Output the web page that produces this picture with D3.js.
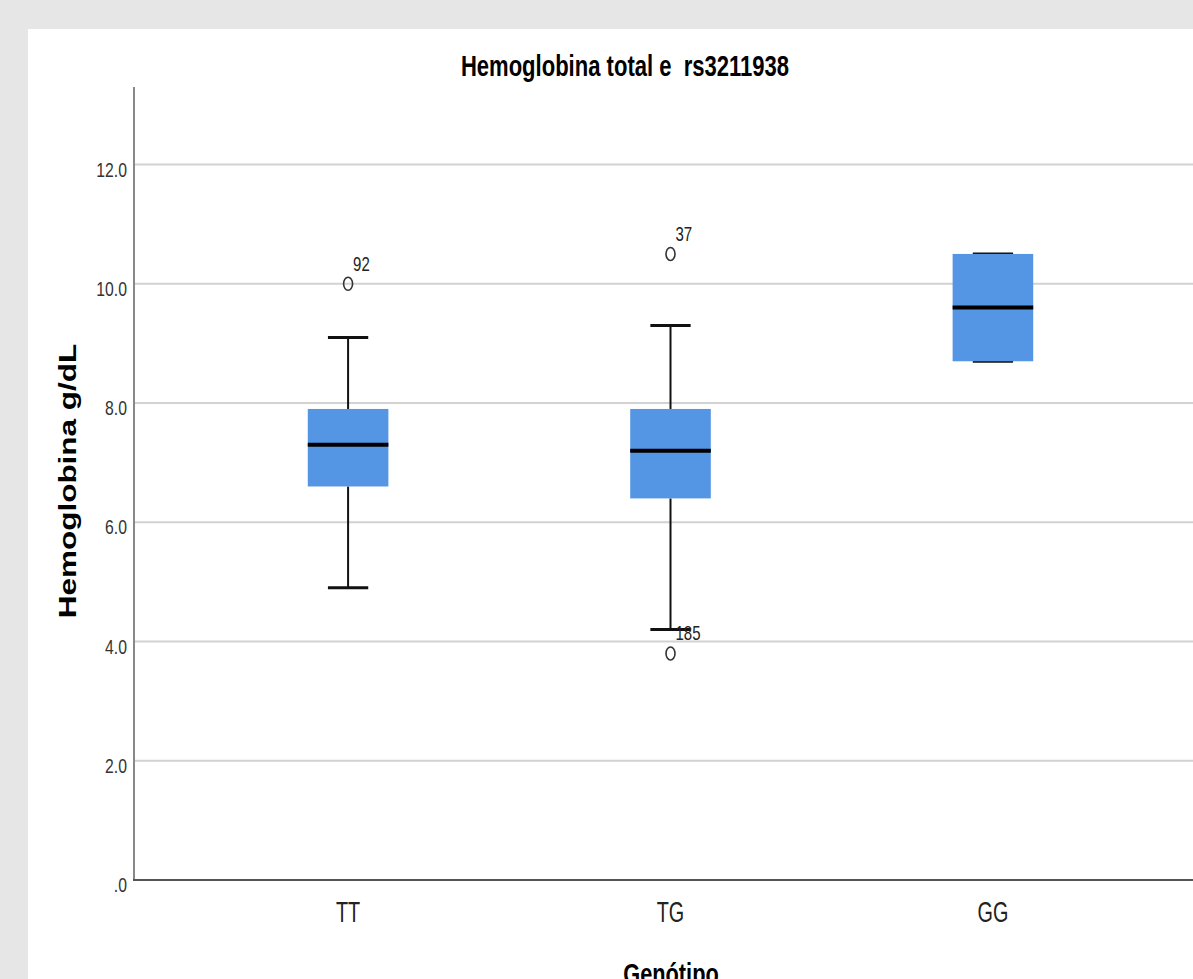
<!DOCTYPE html>
<html>
<head>
<meta charset="utf-8">
<script src="https://cdn.jsdelivr.net/npm/d3@7"></script>
<style>
  html, body { margin: 0; padding: 0; background: #e6e6e6; }
  svg { display: block; }
  text { font-family: "Liberation Sans", Arial, sans-serif; white-space: pre; }
</style>
</head>
<body>
<svg width="1193" height="979"></svg>
<script>
// Box plot summary per genotype
const categories = ["TT", "TG", "GG"];
const q1Values = [6.6, 6.4, 8.7];
const medianValues = [7.3, 7.2, 9.6];
const q3Values = [7.9, 7.9, 10.5];
const whiskerLow = [4.9, 4.2, 8.7];
const whiskerHigh = [9.1, 9.3, 10.5];

// Outliers (case numbers as labels)
const outlierCats = ["TT", "TG", "TG"];
const outlierValues = [10.0, 10.5, 3.8];
const outlierLabels = ["92", "37", "185"];

const yTicks = [0, 2, 4, 6, 8, 10, 12];

// Layout
const axisLeft = 134, axisBottom = 880, axisTop = 87;
const squish = 0.75; // the source picture is horizontally compressed

const svg = d3.select("svg");

// white panel
svg.append("rect")
    .attr("x", 28).attr("y", 29)
    .attr("width", 1193 - 28).attr("height", 979 - 29)
    .attr("fill", "#fff");

const y = d3.scaleLinear()
    .domain([0, 13.3])
    .range([axisBottom, axisTop]);

const x = d3.scalePoint()
    .domain(categories)
    .range([axisLeft, 1207])
    .padding(0.664);

const boxW = x.step() * 0.25;
const capW = boxW / 2;

// helper for the narrow-looking text
function squishedText(px, py, sx, extra) {
    return svg.append("g")
        .attr("transform", `translate(${px},${py}) scale(${sx},1)` + (extra || ""))
        .append("text");
}

// gridlines
svg.append("g")
    .selectAll("line")
    .data(yTicks.filter(d => d > 0))
    .join("line")
    .attr("x1", axisLeft).attr("x2", 1193)
    .attr("y1", d => y(d)).attr("y2", d => y(d))
    .attr("stroke", "#d2d2d2")
    .attr("stroke-width", 2);

// y axis line
svg.append("line")
    .attr("x1", axisLeft).attr("x2", axisLeft)
    .attr("y1", axisTop).attr("y2", axisBottom)
    .attr("stroke", "#888").attr("stroke-width", 2);

// x axis line
svg.append("line")
    .attr("x1", axisLeft - 1).attr("x2", 1193)
    .attr("y1", axisBottom).attr("y2", axisBottom)
    .attr("stroke", "#555").attr("stroke-width", 2);

// y tick labels
yTicks.forEach(d => {
    squishedText(127, y(d) + 12, squish)
        .attr("text-anchor", "end")
        .attr("font-size", 21)
        .attr("fill", "#333")
        .text(d === 0 ? ".0" : d.toFixed(1));
});

// category labels
categories.forEach(c => {
    squishedText(x(c), 922, 0.66)
        .attr("text-anchor", "middle")
        .attr("font-size", 30)
        .attr("fill", "#222")
        .text(c);
});

// boxes
const boxes = svg.append("g");
categories.forEach((c, i) => {
    const cx = x(c);

    // whiskers
    boxes.append("line")
        .attr("x1", cx).attr("x2", cx)
        .attr("y1", y(q3Values[i])).attr("y2", y(whiskerHigh[i]))
        .attr("stroke", "#111").attr("stroke-width", 2);
    boxes.append("line")
        .attr("x1", cx).attr("x2", cx)
        .attr("y1", y(q1Values[i])).attr("y2", y(whiskerLow[i]))
        .attr("stroke", "#111").attr("stroke-width", 2);

    // caps (drawn under the box)
    [whiskerHigh[i], whiskerLow[i]].forEach(v => {
        boxes.append("line")
            .attr("x1", cx - capW / 2).attr("x2", cx + capW / 2)
            .attr("y1", y(v)).attr("y2", y(v))
            .attr("stroke", "#111").attr("stroke-width", 3);
    });

    boxes.append("rect")
        .attr("x", cx - boxW / 2)
        .attr("y", y(q3Values[i]))
        .attr("width", boxW)
        .attr("height", y(q1Values[i]) - y(q3Values[i]))
        .attr("fill", "#5596e4");

    // median
    boxes.append("line")
        .attr("x1", cx - boxW / 2).attr("x2", cx + boxW / 2)
        .attr("y1", y(medianValues[i])).attr("y2", y(medianValues[i]))
        .attr("stroke", "#000").attr("stroke-width", 4);
});

// outliers
outlierValues.forEach((v, i) => {
    const cx = x(outlierCats[i]);
    svg.append("ellipse")
        .attr("cx", cx).attr("cy", y(v))
        .attr("rx", 4.5).attr("ry", 6.5)
        .attr("fill", "none")
        .attr("stroke", "#333")
        .attr("stroke-width", 1.6);
    squishedText(cx + 5, y(v) - 13, squish)
        .attr("font-size", 20)
        .attr("fill", "#222")
        .text(outlierLabels[i]);
});

// title
squishedText(625, 76, 0.76)
    .attr("text-anchor", "middle")
    .attr("font-size", 29)
    .attr("font-weight", "bold")
    .attr("fill", "#000")
    .text("Hemoglobina total e  rs3211938");

// y axis label
squishedText(76, 481, squish, " rotate(-90)")
    .attr("text-anchor", "middle")
    .attr("font-size", 31.5)
    .attr("font-weight", "bold")
    .attr("fill", "#000")
    .text("Hemoglobina g/dL");

// x axis label (cut by the bottom edge, as in the source)
squishedText(671, 984, squish)
    .attr("text-anchor", "middle")
    .attr("font-size", 29)
    .attr("font-weight", "bold")
    .attr("fill", "#000")
    .text("Genótipo");
</script>
</body>
</html>
